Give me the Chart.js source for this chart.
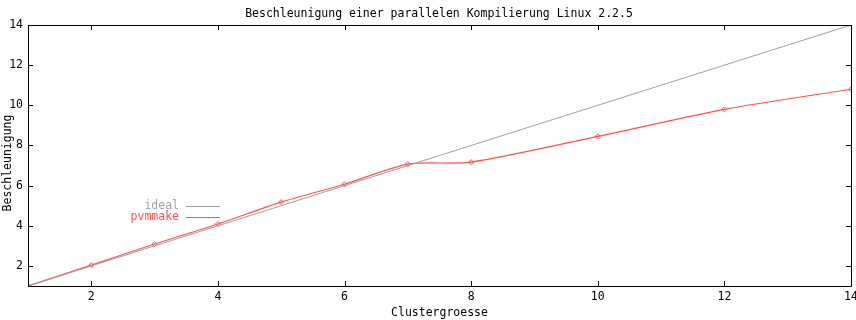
<!DOCTYPE html>
<html>
<head>
<meta charset="utf-8">
<script src="https://cdn.jsdelivr.net/npm/chart.js@4/dist/chart.umd.min.js"></script>
<style>
  html, body { margin: 0; padding: 0; background: #fff; }
  #wrap { width: 856px; height: 320px; }
</style>
</head>
<body>
<div id="wrap"><canvas id="myChart" width="856" height="320"></canvas></div>
<script>
  // cluster sizes and measured speedup
  const clusterSizes = [1, 2, 3, 4, 5, 6, 7, 8, 10, 12, 14];
  const pvmmakeSpeedup = [1.0, 2.04, 3.09, 4.09, 5.18, 6.07, 7.07, 7.17, 8.45, 9.8, 10.8];
  const idealX = [1, 14];
  const idealY = [1, 14];
  const xTicks = [2, 4, 6, 8, 10, 12, 14];
  const yTicks = [2, 4, 6, 8, 10, 12, 14];

  const RED = 'rgb(255, 80, 80)';
  const GRAY = 'rgb(160, 160, 160)';
  const FONT = 'DejaVu Sans Mono';

  // gnuplot-style frame: inward ticks on all four sides, titles, legend
  const gnuplotFrame = {
    id: 'gnuplotFrame',
    afterDraw(chart) {
      const ctx = chart.ctx;
      const a = chart.chartArea;
      const xs = chart.scales.x, ys = chart.scales.y;
      ctx.save();
      ctx.strokeStyle = '#000';
      ctx.lineWidth = 1;
      ctx.beginPath();
      ctx.rect(Math.round(a.left) + 0.5, Math.round(a.top) + 0.5,
               Math.round(a.right - a.left), Math.round(a.bottom - a.top));
      xTicks.forEach(v => {
        const px = Math.round(xs.getPixelForValue(v)) + 0.5;
        ctx.moveTo(px, a.bottom); ctx.lineTo(px, a.bottom - 5);
        ctx.moveTo(px, a.top); ctx.lineTo(px, a.top + 5);
      });
      yTicks.forEach(v => {
        const py = Math.round(ys.getPixelForValue(v)) + 0.5;
        ctx.moveTo(a.left, py); ctx.lineTo(a.left + 5, py);
        ctx.moveTo(a.right, py); ctx.lineTo(a.right - 5, py);
      });
      ctx.stroke();

      ctx.font = '11.5px "' + FONT + '"';
      ctx.fillStyle = '#000';
      ctx.textAlign = 'center';
      ctx.textBaseline = 'middle';
      // title
      ctx.fillText('Beschleunigung einer parallelen Kompilierung Linux 2.2.5', 439, 14);
      // y axis title
      ctx.save();
      ctx.translate(8, 163);
      ctx.rotate(-Math.PI / 2);
      ctx.fillText('Beschleunigung', 0, 0);
      ctx.restore();

      // legend
      ctx.textAlign = 'right';
      const items = [
        { label: 'ideal', color: GRAY, y: 206 },
        { label: 'pvmmake', color: RED, y: 217 }
      ];
      items.forEach(it => {
        ctx.fillStyle = it.color;
        ctx.fillText(it.label, 179, it.y);
        ctx.strokeStyle = it.color;
        ctx.beginPath();
        ctx.moveTo(186, it.y + 0.5);
        ctx.lineTo(220, it.y + 0.5);
        ctx.stroke();
      });
      ctx.restore();
    }
  };

  function createChart() {
    const ctx = document.getElementById('myChart').getContext('2d');
    new Chart(ctx, {
      type: 'line',
      data: {
        datasets: [
          {
            label: 'ideal',
            data: idealX.map((x, i) => ({ x: x, y: idealY[i] })),
            borderColor: GRAY,
            borderWidth: 1,
            pointRadius: 0,
            fill: false
          },
          {
            label: 'pvmmake',
            data: clusterSizes.map((x, i) => ({ x: x, y: pvmmakeSpeedup[i] })),
            borderColor: RED,
            backgroundColor: 'rgba(0,0,0,0)',
            borderWidth: 1.2,
            pointStyle: 'rectRot',
            pointRadius: 2.5,
            pointBorderWidth: 1,
            pointBorderColor: RED,
            tension: 0.25,
            fill: false
          }
        ]
      },
      options: {
        responsive: false,
        animation: false,
        layout: { padding: { top: 25, right: 5, left: 0, bottom: 0 } },
        plugins: {
          legend: { display: false },
          tooltip: { enabled: false },
          title: { display: false }
        },
        scales: {
          x: {
            type: 'linear',
            min: 1,
            max: 14,
            ticks: {
              stepSize: 2,
              color: '#000',
              font: { family: FONT, size: 11.5 },
              padding: 4,
              maxRotation: 0,
              callback: v => (xTicks.includes(v) ? String(v) : '')
            },
            grid: { display: false, drawTicks: false },
            border: { display: false },
            title: {
              display: true,
              text: 'Clustergroesse',
              color: '#000',
              font: { family: FONT, size: 11.5 },
              padding: { top: 2, bottom: 0 }
            },
            afterFit: s => { s.height = 34; s.paddingRight = 0; s.paddingLeft = 0; }
          },
          y: {
            type: 'linear',
            min: 1,
            max: 14,
            ticks: {
              stepSize: 2,
              color: '#000',
              font: { family: FONT, size: 11.5 },
              padding: 5,
              callback: v => (yTicks.includes(v) ? String(v) : '')
            },
            grid: { display: false, drawTicks: false },
            border: { display: false },
            afterFit: s => { s.width = 28; }
          }
        }
      },
      plugins: [gnuplotFrame]
    });
  }

  createChart();
</script>
</body>
</html>
